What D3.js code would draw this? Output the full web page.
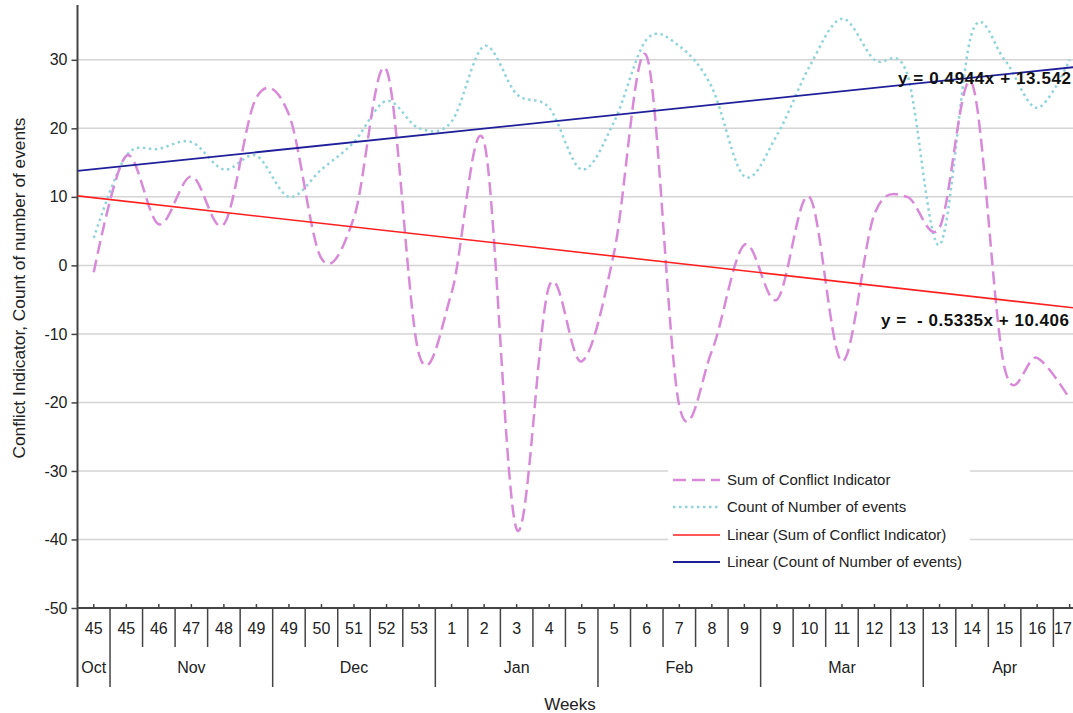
<!DOCTYPE html>
<html>
<head>
<meta charset="utf-8">
<script src="https://cdn.jsdelivr.net/npm/d3@7"></script>
<style>
  html, body { margin: 0; padding: 0; background: #fff; }
  svg { display: block; font-family: "Liberation Sans", Arial, sans-serif; }
</style>
</head>
<body>
<svg id="chart" width="1073" height="713"></svg>
<script>
// ---- data ----
const weekLabels = ["45","45","46","47","48","49","49","50","51","52","53","1","2","3","4","5","5","6","7","8","9","9","10","11","12","13","13","14","15","16","17"];
const monthNames = ["Oct","Nov","Dec","Jan","Feb","Mar","Apr"];
const monthSpans = [1,5,5,5,5,5,5];
const conflictSum = [-1,16,6,13,6,24.5,22,1,7,28.5,-13,-4,18,-38.5,-3,-14,2,30.5,-20.5,-12.5,3,-5,10,-14,7.5,10,5.5,26.5,-15,-13.5,-19.5];
const eventCount = [4,16,17,18,14,16,10,14,18,24,20,21,32,25,23,14,21,33,32,26,13,19,29,36,30,28,3,34,30,23,30];
const trendConflict = [-0.5335, 10.406]; // slope, intercept
const trendCount = [0.4944, 13.542];
const yTicks = [30,20,10,0,-10,-20,-30,-40,-50];
const seriesNames = ["Sum of Conflict Indicator","Count of Number of events","Linear (Sum of Conflict Indicator)","Linear (Count of Number of events)"];
const equationLabels = ["y = 0.4944x + 13.542", "y =  - 0.5335x + 10.406"];

// ---- layout ----
const svg = d3.select("#chart");
const left = 77.5, bandW = 32.53, n = weekLabels.length;
const right = left + n * bandW;
const axisY = 608;

const x = d3.scaleBand().domain(d3.range(n)).range([left, right]).padding(0);
const xc = i => x(i) + x.bandwidth() / 2;
const xLin = d3.scaleLinear().domain([0.5, n + 0.5]).range([left, right]);
const y = d3.scaleLinear().domain([-50, 38]).range([axisY, 5]);

svg.append("rect").attr("width", 1073).attr("height", 713).attr("fill", "#fff");

// gridlines
svg.append("g").selectAll("line").data(yTicks.filter(t => t > -50)).join("line")
  .attr("x1", left).attr("x2", right)
  .attr("y1", d => y(d)).attr("y2", d => y(d))
  .attr("stroke", "#d4d4d4").attr("stroke-width", 1.5);

// y axis
const yAxis = d3.axisLeft(y).tickValues(yTicks).tickSize(6).tickPadding(4).tickFormat(d => String(d));
const gy = svg.append("g").attr("transform", `translate(${left},0)`).call(yAxis);
gy.select(".domain").remove();
gy.selectAll(".tick line").attr("stroke", "#444").attr("stroke-width", 1.5);
gy.selectAll(".tick text").attr("font-size", 16).attr("fill", "#222").attr("font-family", "Liberation Sans, Arial, sans-serif");
svg.append("line").attr("x1", left).attr("x2", left).attr("y1", 5).attr("y2", 687)
  .attr("stroke", "#444").attr("stroke-width", 2);

// x axis line + center ticks
svg.append("line").attr("x1", left).attr("x2", right).attr("y1", axisY).attr("y2", axisY)
  .attr("stroke", "#444").attr("stroke-width", 2);
svg.append("g").selectAll("line").data(d3.range(n)).join("line")
  .attr("x1", d => xc(d)).attr("x2", d => xc(d)).attr("y1", axisY - 4).attr("y2", axisY)
  .attr("stroke", "#444").attr("stroke-width", 1.5);

// category separators
const monthStart = [];
let acc = 0;
monthSpans.forEach(s => { monthStart.push(acc); acc += s; });
svg.append("g").selectAll("line").data(d3.range(1, n + 1)).join("line")
  .attr("x1", d => x(d) ?? right).attr("x2", d => x(d) ?? right)
  .attr("y1", axisY).attr("y2", d => monthStart.includes(d) ? 687 : 647)
  .attr("stroke", "#444").attr("stroke-width", 1.5);

// week labels (kept inside the visible width)
svg.append("g").selectAll("text").data(weekLabels).join("text")
  .attr("x", (d, i) => Math.min(xc(i), 1063)).attr("y", 634).attr("text-anchor", "middle")
  .attr("font-size", 16).attr("fill", "#222").text(d => d);

// month labels
svg.append("g").selectAll("text").data(monthNames).join("text")
  .attr("x", (d, i) => (x(monthStart[i]) + x(monthStart[i] + monthSpans[i] - 1) + x.bandwidth()) / 2)
  .attr("y", 673).attr("text-anchor", "middle").attr("font-size", 16).attr("fill", "#222").text(d => d);

// axis titles
svg.append("text").attr("x", 570).attr("y", 710).attr("text-anchor", "middle")
  .attr("font-size", 17).attr("fill", "#222").text("Weeks");
svg.append("text").attr("transform", "translate(25,288) rotate(-90)").attr("text-anchor", "middle")
  .attr("font-size", 17.3).attr("fill", "#222").text("Conflict Indicator, Count of number of events");

// clip for plot
svg.append("clipPath").attr("id", "plotclip").append("rect")
  .attr("x", left).attr("y", 0).attr("width", right - left).attr("height", axisY);
const plot = svg.append("g").attr("clip-path", "url(#plotclip)");

const line = d3.line().x((d, i) => xc(i)).y(d => y(d)).curve(d3.curveCardinal.tension(0));

plot.append("path").datum(eventCount).attr("d", line)
  .attr("fill", "none").attr("stroke", "#8fd4d8").attr("stroke-width", 2.5)
  .attr("stroke-dasharray", "2.5,3.5");
plot.append("path").datum(conflictSum).attr("d", line)
  .attr("fill", "none").attr("stroke", "#d88ad8").attr("stroke-width", 2.5)
  .attr("stroke-dasharray", "13,6");

const trendLine = c => [[0.5, c[0] * 0.5 + c[1]], [n + 0.5, c[0] * (n + 0.5) + c[1]]];
plot.append("path").datum(trendLine(trendConflict))
  .attr("d", d3.line().x(d => xLin(d[0])).y(d => y(d[1])))
  .attr("stroke", "#ff2020").attr("stroke-width", 1.6).attr("fill", "none");
plot.append("path").datum(trendLine(trendCount))
  .attr("d", d3.line().x(d => xLin(d[0])).y(d => y(d[1])))
  .attr("stroke", "#1f1f9a").attr("stroke-width", 1.8).attr("fill", "none");

// equations
svg.append("text").attr("x", 898).attr("y", 84).attr("font-size", 17).attr("font-weight", "bold")
  .attr("fill", "#111").attr("textLength", 173).attr("lengthAdjust", "spacing").text(equationLabels[0]);
svg.append("text").attr("x", 881).attr("y", 326).attr("font-size", 17).attr("font-weight", "bold")
  .attr("fill", "#111").style("white-space", "pre").attr("textLength", 188).attr("lengthAdjust", "spacing").text(equationLabels[1]);

// legend
const lg = svg.append("g");
lg.append("rect").attr("x", 668).attr("y", 462).attr("width", 302).attr("height", 116).attr("fill", "#fff");
const legStyles = [
  {stroke: "#d88ad8", dash: "13,6", w: 2.5},
  {stroke: "#8fd4d8", dash: "2.5,3.5", w: 2.5},
  {stroke: "#ff2020", dash: null, w: 1.6},
  {stroke: "#1f1f9a", dash: null, w: 1.8}
];
const rowsY = [480, 507, 535, 562];
seriesNames.forEach((name, i) => {
  lg.append("line").attr("x1", 673).attr("x2", 720).attr("y1", rowsY[i]).attr("y2", rowsY[i])
    .attr("stroke", legStyles[i].stroke).attr("stroke-width", legStyles[i].w)
    .attr("stroke-dasharray", legStyles[i].dash);
  lg.append("text").attr("x", 727).attr("y", rowsY[i] + 5).attr("font-size", 15)
    .attr("fill", "#222").text(name);
});
</script>
</body>
</html>
